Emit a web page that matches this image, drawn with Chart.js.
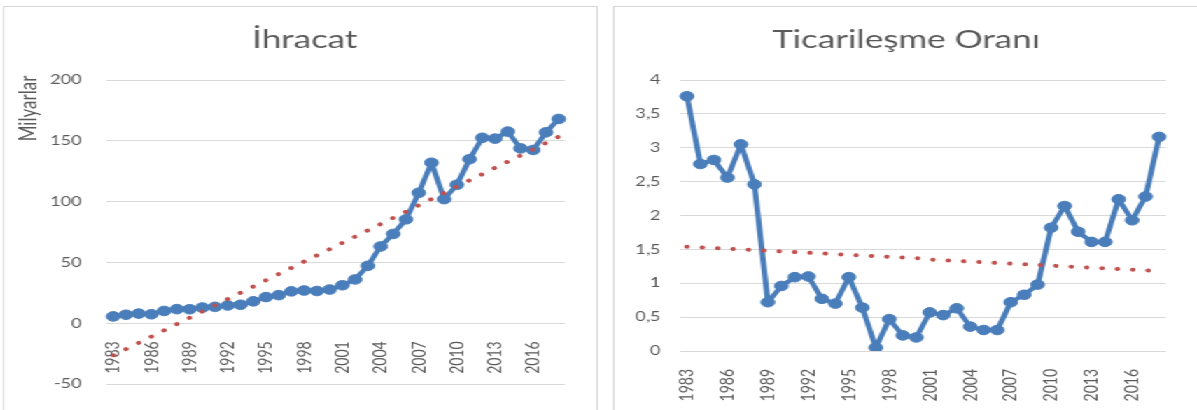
<!DOCTYPE html>
<html>
<head>
<meta charset="utf-8">
<script src="https://cdn.jsdelivr.net/npm/chart.js@4.4.1/dist/chart.umd.min.js"></script>
<style>
  html,body{margin:0;padding:0;background:#fff;overflow:hidden;width:1197px;height:410px;}
  #wrap{position:absolute;left:0;top:0;width:855px;height:410px;transform:scaleX(1.4);transform-origin:0 0;}
  .panel{position:absolute;top:6px;height:420px;border:1px solid #d6d6d6;background:#fff;}
  #p1{left:2.1px;width:423px;}
  #p2{left:437.9px;width:440px;}
  canvas{display:block;}
</style>
</head>
<body>
<div id="wrap">
  <div class="panel" id="p1"><canvas id="c1" width="423" height="403"></canvas></div>
  <div class="panel" id="p2"><canvas id="c2" width="416" height="403"></canvas></div>
</div>
<script>
// ---- data ----
const years = [1983,1984,1985,1986,1987,1988,1989,1990,1991,1992,1993,1994,1995,1996,1997,1998,1999,2000,
               2001,2002,2003,2004,2005,2006,2007,2008,2009,2010,2011,2012,2013,2014,2015,2016,2017,2018];
const shownYears = [1983,1986,1989,1992,1995,1998,2001,2004,2007,2010,2013,2016];

const exportTitle = "İhracat";
const exportUnit = "Milyarlar";
const exports = [5.7,7.1,8.0,7.5,10.2,11.7,11.6,13.0,13.6,14.7,15.3,18.1,21.6,23.2,26.3,27.0,26.6,27.8,
                 31.3,36.1,47.3,63.2,73.5,85.5,107.3,132.0,102.1,113.9,134.9,152.5,151.8,157.6,143.8,142.5,157.0,168.0];
const exportTrend = [-26.2,-21.1,-16.0,-10.8,-5.7,-0.6,4.6,9.7,14.8,20.0,25.1,30.2,35.4,40.5,45.6,50.8,55.9,61.0,
                     66.2,71.3,76.4,81.6,86.7,91.8,97.0,102.1,107.2,112.4,117.5,122.6,127.8,132.9,138.0,143.2,148.3,153.4];
const exportTicks = [-50,0,50,100,150,200];

const ratioTitle = "Ticarileşme Oranı";
const ratio = [3.76,2.76,2.82,2.56,3.05,2.46,0.72,0.96,1.09,1.10,0.77,0.70,1.09,0.64,0.05,0.47,0.23,0.20,
               0.57,0.53,0.63,0.36,0.31,0.31,0.72,0.83,0.98,1.82,2.14,1.76,1.61,1.61,2.24,1.93,2.28,3.16];
const ratioTrend = [1.54,1.53,1.52,1.51,1.50,1.49,1.48,1.47,1.46,1.45,1.44,1.43,1.42,1.41,1.40,1.39,1.38,1.37,
                    1.35,1.34,1.33,1.32,1.31,1.30,1.29,1.28,1.27,1.26,1.25,1.24,1.23,1.22,1.21,1.20,1.19,1.18];
const ratioTicks = [0,0.5,1,1.5,2,2.5,3,3.5,4];

// ---- styles ----
const FONT = "Lato";
const TXT = "#595959";
const GRID = "#d9d9d9";
const BLUE = "#4a7ebb";
const RED = "#c0504d";

function lineDatasets(values, trend) {
  return [
    {
      data: trend,
      borderColor: RED,
      borderWidth: 4,
      borderDash: [0.01, 11],
      borderCapStyle: 'round',
      pointRadius: 0,
      fill: false,
      tension: 0
    },
    {
      data: values,
      borderColor: BLUE,
      backgroundColor: BLUE,
      borderWidth: 4,
      borderJoinStyle: 'round',
      pointRadius: 4.8,
      pointBackgroundColor: BLUE,
      pointBorderColor: BLUE,
      pointBorderWidth: 1,
      fill: false,
      tension: 0
    }
  ];
}

function xScale(extra) {
  return Object.assign({
    type: 'category',
    offset: true,
    grid: { display: false },
    border: { display: false },
    ticks: {
      autoSkip: false,
      minRotation: 90,
      maxRotation: 90,
      padding: 10,
      color: TXT,
      font: { family: FONT, size: 14 },
      callback: function(v, i) {
        const y = years[i];
        return shownYears.includes(y) ? String(y) : '';
      }
    }
  }, extra);
}

function yScale(ticks, width, pad) {
  return {
    min: ticks[0],
    max: ticks[ticks.length - 1],
    afterBuildTicks: function(scale) { scale.ticks = ticks.map(v => ({ value: v })); },
    afterFit: function(scale) { scale.width = width; },
    grid: { color: GRID, lineWidth: 1, drawTicks: false },
    border: { display: false },
    ticks: {
      padding: pad,
      color: TXT,
      font: { family: FONT, size: 13 },
      callback: v => String(v).replace('.', ',')
    }
  };
}

// Titles and unit label drawn on the canvas at fixed positions
const textLabels = {
  id: 'textLabels',
  afterDraw(chart, args, opts) {
    const ctx = chart.ctx;
    ctx.save();
    ctx.fillStyle = TXT;
    ctx.textAlign = 'center';
    ctx.textBaseline = 'middle';
    ctx.font = "25px " + FONT;
    ctx.fillText(opts.title, opts.titleX, 33);
    if (opts.unit) {
      ctx.translate(17.2, 101.5);
      ctx.rotate(-Math.PI / 2);
      ctx.font = "17px " + FONT;
      ctx.fillText(opts.unit, 0, 0);
    }
    ctx.restore();
  }
};

new Chart(document.getElementById('c1'), {
  type: 'line',
  data: { labels: years.map(String), datasets: lineDatasets(exports, exportTrend) },
  options: {
    responsive: false,
    animation: false,
    layout: { padding: { left: 0, right: 7, top: 73, bottom: 22 } },
    plugins: {
      legend: { display: false }, tooltip: { enabled: false }, title: { display: false },
      textLabels: { title: exportTitle, titleX: 214.7, unit: exportUnit }
    },
    scales: {
      x: xScale({ position: { y: 0 } }),
      y: yScale(exportTicks, 73.3, 18)
    }
  },
  plugins: [textLabels]
});

new Chart(document.getElementById('c2'), {
  type: 'line',
  data: { labels: years.map(String), datasets: lineDatasets(ratio, ratioTrend) },
  options: {
    responsive: false,
    animation: false,
    layout: { padding: { left: 0, right: 17, top: 73, bottom: 0 } },
    plugins: {
      legend: { display: false }, tooltip: { enabled: false }, title: { display: false },
      textLabels: { title: ratioTitle, titleX: 208.3, unit: null }
    },
    scales: {
      x: xScale({ position: 'bottom', afterFit: function(s) { s.height = 59; } }),
      y: yScale(ratioTicks, 46.9, 14)
    }
  },
  plugins: [textLabels]
});
</script>
</body>
</html>
